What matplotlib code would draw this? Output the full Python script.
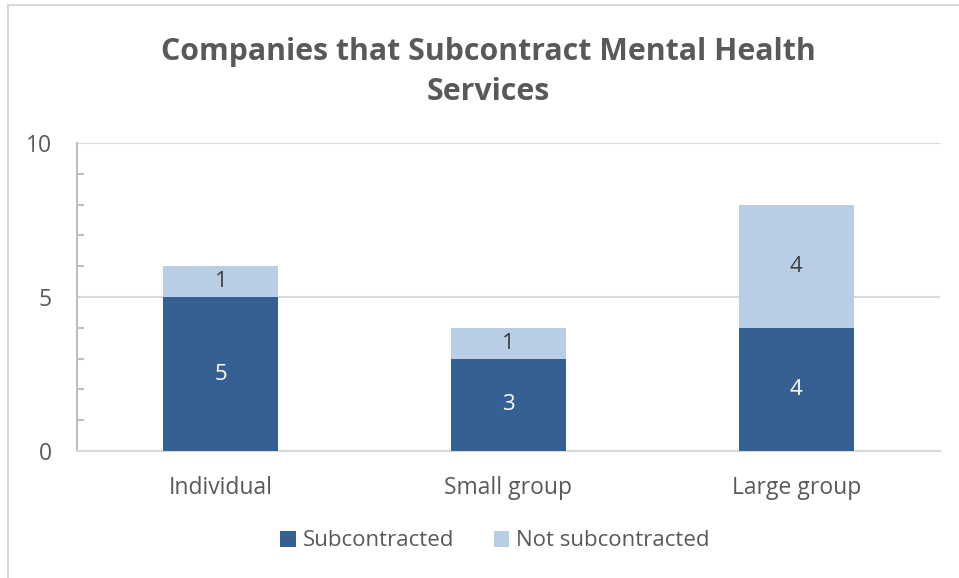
import matplotlib.pyplot as plt
from matplotlib.patches import Rectangle

categories = ['Individual', 'Small group', 'Large group']
subcontracted = [5, 3, 4]
not_subcontracted = [1, 1, 4]

dark = '#366092'
light = '#B9CDE5'
text_gray = '#595959'
line_gray = '#D9D9D9'

plt.rcParams['font.family'] = ['Open Sans', 'DejaVu Sans']

fig = plt.figure(figsize=(9.59, 5.78), dpi=100)
ax = fig.add_axes([77 / 959, 1 - 451 / 578, 863 / 959, 308 / 578])

# outer chart border (only top/left visible in the original crop)
fig.patches.append(Rectangle((8 / 959, -0.1), 1.2, (578 - 5) / 578 + 0.1,
                             transform=fig.transFigure, fill=False,
                             edgecolor=line_gray, linewidth=1.5))

x = range(len(categories))
b1 = ax.bar(x, subcontracted, width=0.4, color=dark, label='Subcontracted', zorder=3)
b2 = ax.bar(x, not_subcontracted, width=0.4, bottom=subcontracted, color=light,
            label='Not subcontracted', zorder=3)

ax.bar_label(b1, label_type='center', color='white', fontsize=16)
ax.bar_label(b2, label_type='center', color='#404040', fontsize=16)

ax.set_xlim(-0.5, 2.5)
ax.set_ylim(0, 10)
ax.set_yticks([0, 5, 10])
ax.set_yticks(range(1, 10), minor=True)
ax.set_xticks(list(x))
ax.set_xticklabels(categories)

ax.yaxis.grid(True, which='major', color=line_gray, linewidth=1.5, zorder=0)
ax.set_axisbelow(True)

for s in ['top', 'right']:
    ax.spines[s].set_visible(False)
ax.spines['left'].set_color('#BFBFBF')
ax.spines['left'].set_linewidth(1.5)
ax.spines['bottom'].set_color(line_gray)
ax.spines['bottom'].set_linewidth(1.5)

ax.tick_params(axis='y', which='major', length=0, pad=18, labelsize=16.5, labelcolor=text_gray)
ax.tick_params(axis='y', which='minor', direction='in', length=5, color='#BFBFBF', width=1.5)
ax.tick_params(axis='x', length=0, pad=18, labelsize=16.5, labelcolor=text_gray)

fig.text(488 / 959, 1 - 72 / 578, 'Companies that Subcontract Mental Health\nServices',
         ha='center', va='center', fontsize=21.8, fontweight='bold', color=text_gray,
         linespacing=1.45)

fig.legend(handles=[b1, b2], loc='center', bbox_to_anchor=(495 / 959, 1 - 541 / 578),
           ncol=2, frameon=False, fontsize=16, labelcolor=text_gray,
           handlelength=0.7, handleheight=0.7, handletextpad=0.3, columnspacing=1.8)

fig.savefig('out.png', dpi=100)
